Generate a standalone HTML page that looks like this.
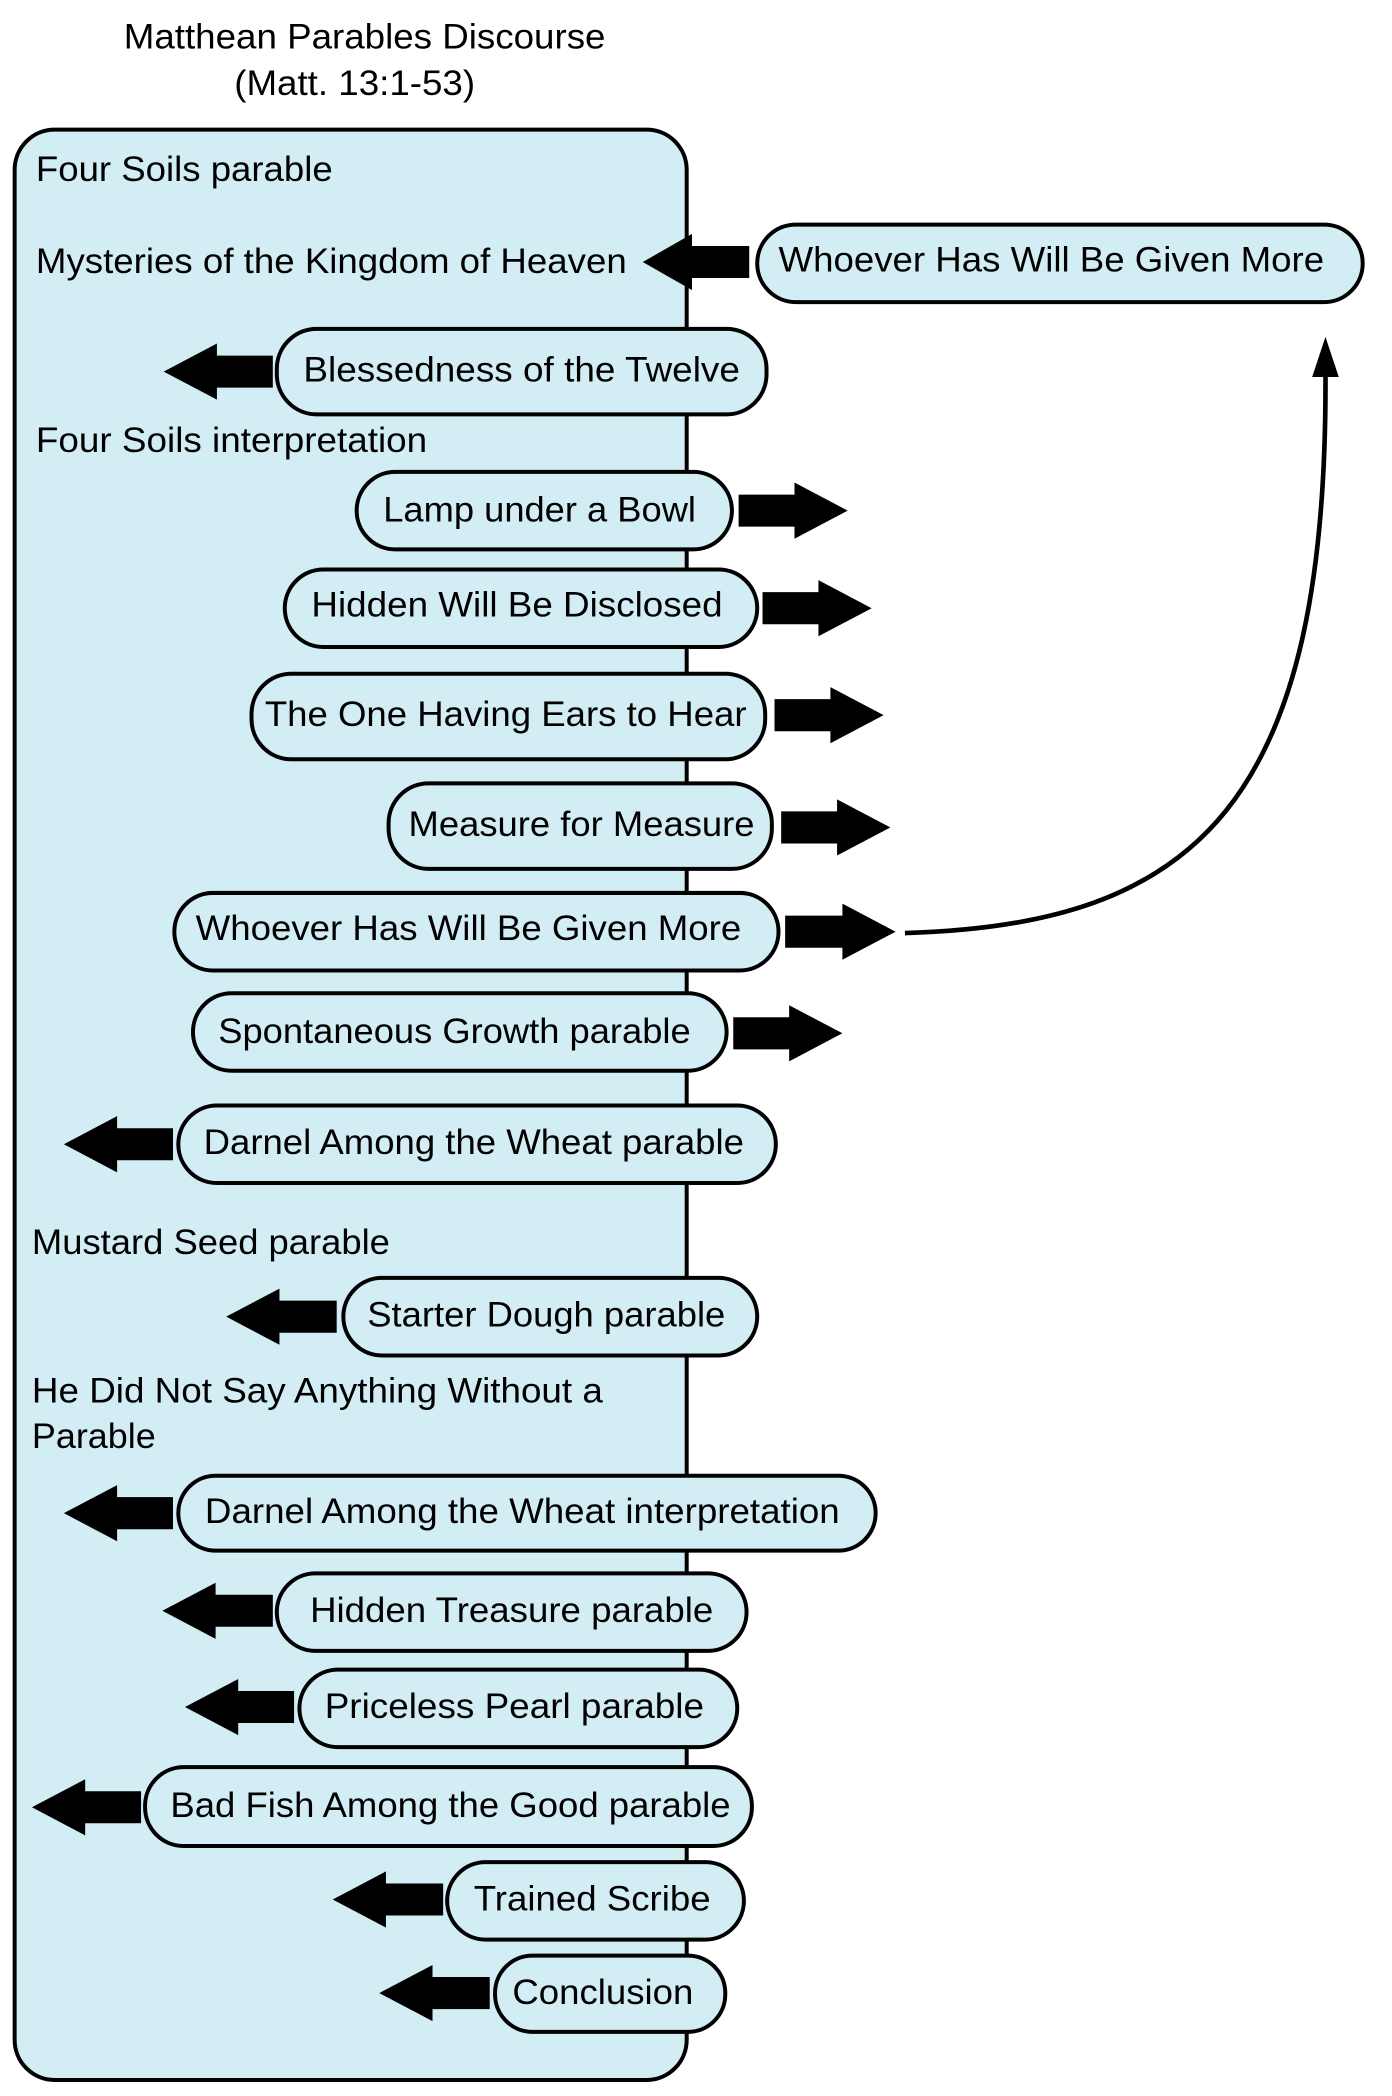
<!DOCTYPE html>
<html><head><meta charset="utf-8"><style>
html,body{margin:0;padding:0;background:#fff;}
svg{display:block;}
text{font-family:"Liberation Sans",Arial,sans-serif;font-size:26px;fill:#000;dominant-baseline:central;}
</style></head><body>
<svg width="1392" height="2096" viewBox="0 0 1046 1568" preserveAspectRatio="none" xmlns="http://www.w3.org/2000/svg">
<rect x="0" y="0" width="1046" height="1568" fill="#fff"/>
<text x="93" y="28" textLength="362" lengthAdjust="spacingAndGlyphs">Matthean Parables Discourse</text>
<text x="176" y="63" textLength="181" lengthAdjust="spacingAndGlyphs">(Matt. 13:1-53)</text>
<rect x="11" y="97" width="505" height="1459" rx="30" fill="#d3edf5" stroke="#000" stroke-width="3"/>
<text x="27" y="127" textLength="223" lengthAdjust="spacingAndGlyphs">Four Soils parable</text>
<text x="27" y="196" textLength="444" lengthAdjust="spacingAndGlyphs">Mysteries of the Kingdom of Heaven</text>
<text x="27" y="330" textLength="294" lengthAdjust="spacingAndGlyphs">Four Soils interpretation</text>
<text x="24" y="930" textLength="269" lengthAdjust="spacingAndGlyphs">Mustard Seed parable</text>
<text x="24" y="1041" textLength="429" lengthAdjust="spacingAndGlyphs">He Did Not Say Anything Without a</text>
<text x="24" y="1075" textLength="93" lengthAdjust="spacingAndGlyphs">Parable</text>
<g fill="#d3edf5" stroke="#000" stroke-width="3">
<rect x="569" y="168" width="455" height="58" rx="29"/>
<rect x="208" y="246" width="368" height="64" rx="30"/>
<rect x="268" y="353" width="282" height="58" rx="29"/>
<rect x="214" y="426" width="355" height="58" rx="29"/>
<rect x="189" y="504" width="386" height="64" rx="30"/>
<rect x="292" y="586" width="288" height="64" rx="30"/>
<rect x="131" y="668" width="454" height="58" rx="29"/>
<rect x="145" y="743" width="401" height="58" rx="29"/>
<rect x="134" y="827" width="449" height="58" rx="29"/>
<rect x="258" y="956" width="311" height="58" rx="29"/>
<rect x="134" y="1104" width="524" height="56" rx="28"/>
<rect x="208" y="1177" width="353" height="58" rx="29"/>
<rect x="225" y="1249" width="329" height="58" rx="29"/>
<rect x="109" y="1322" width="456" height="59" rx="29"/>
<rect x="336" y="1393" width="223" height="58" rx="29"/>
<rect x="372" y="1463" width="173" height="57" rx="28"/>
</g>
<text x="585" y="195" textLength="410" lengthAdjust="spacingAndGlyphs">Whoever Has Will Be Given More</text>
<text x="228" y="277" textLength="328" lengthAdjust="spacingAndGlyphs">Blessedness of the Twelve</text>
<text x="288" y="382" textLength="235" lengthAdjust="spacingAndGlyphs">Lamp under a Bowl</text>
<text x="234" y="453" textLength="309" lengthAdjust="spacingAndGlyphs">Hidden Will Be Disclosed</text>
<text x="199" y="535" textLength="362" lengthAdjust="spacingAndGlyphs">The One Having Ears to Hear</text>
<text x="307" y="617" textLength="260" lengthAdjust="spacingAndGlyphs">Measure for Measure</text>
<text x="147" y="695" textLength="410" lengthAdjust="spacingAndGlyphs">Whoever Has Will Be Given More</text>
<text x="164" y="772" textLength="355" lengthAdjust="spacingAndGlyphs">Spontaneous Growth parable</text>
<text x="153" y="855" textLength="406" lengthAdjust="spacingAndGlyphs">Darnel Among the Wheat parable</text>
<text x="276" y="984" textLength="269" lengthAdjust="spacingAndGlyphs">Starter Dough parable</text>
<text x="154" y="1131" textLength="477" lengthAdjust="spacingAndGlyphs">Darnel Among the Wheat interpretation</text>
<text x="233" y="1205" textLength="303" lengthAdjust="spacingAndGlyphs">Hidden Treasure parable</text>
<text x="244" y="1277" textLength="285" lengthAdjust="spacingAndGlyphs">Priceless Pearl parable</text>
<text x="128" y="1351" textLength="421" lengthAdjust="spacingAndGlyphs">Bad Fish Among the Good parable</text>
<text x="356" y="1421" textLength="178" lengthAdjust="spacingAndGlyphs">Trained Scribe</text>
<text x="385" y="1491" textLength="136" lengthAdjust="spacingAndGlyphs">Conclusion</text>
<g fill="#000">
<polygon points="483,196 520,175 520,184 563,184 563,208 520,208 520,217"/>
<polygon points="123,278 163,257 163,266 205,266 205,290 163,290 163,299"/>
<polygon points="48,856 88,835 88,844 130,844 130,868 88,868 88,877"/>
<polygon points="170,985 210,964 210,973 253,973 253,997 210,997 210,1006"/>
<polygon points="48,1132 88,1111 88,1120 130,1120 130,1144 88,1144 88,1153"/>
<polygon points="122,1205 162,1184 162,1193 205,1193 205,1217 162,1217 162,1226"/>
<polygon points="139,1277 179,1256 179,1265 221,1265 221,1289 179,1289 179,1298"/>
<polygon points="24,1352 64,1331 64,1340 106,1340 106,1364 64,1364 64,1373"/>
<polygon points="250,1421 290,1400 290,1409 333,1409 333,1433 290,1433 290,1442"/>
<polygon points="285,1491 325,1470 325,1479 368,1479 368,1503 325,1503 325,1512"/>
<polygon points="637,382 597,361 597,370 555,370 555,394 597,394 597,403"/>
<polygon points="655,455 615,434 615,443 573,443 573,467 615,467 615,476"/>
<polygon points="664,535 624,514 624,523 582,523 582,547 624,547 624,556"/>
<polygon points="669,619 629,598 629,607 587,607 587,631 629,631 629,640"/>
<polygon points="673,697 633,676 633,685 590,685 590,709 633,709 633,718"/>
<polygon points="633,773 593,752 593,761 551,761 551,785 593,785 593,794"/>
<polygon points="996,252 986,282 1006,282"/>
</g>
<path d="M680 698 C 900 692, 998 600, 996 278" fill="none" stroke="#000" stroke-width="3.5"/>
</svg>
</body></html>
